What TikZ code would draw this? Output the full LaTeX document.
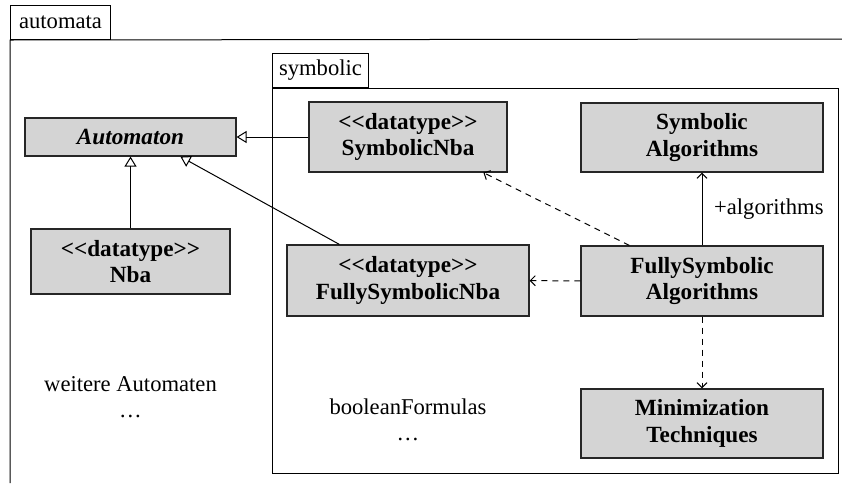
\documentclass[tikz,border=0pt]{standalone}
\usepackage{fontspec}
\setmainfont{Liberation Serif}[Ligatures=TeXOff]
\usetikzlibrary{arrows.meta,calc}
\begin{document}
\begin{tikzpicture}[x=0.5pt,y=-0.5pt,
  every node/.style={font=\fontsize{11.3}{13.3}\selectfont},
  box/.style={draw=black!85, fill=black!17, line width=0.6pt, align=center,
    inner sep=0pt, font=\fontsize{11.6}{13.3}\selectfont\bfseries},
  pkgtab/.style={draw, line width=0.5pt, anchor=north west, inner sep=0pt,
    minimum height=17pt},
  frame/.style={line width=0.5pt},
  gen/.style={line width=0.5pt, -{Triangle[open,length=5pt,width=6pt]}},
  dep/.style={line width=0.5pt, dash pattern=on 3pt off 2.5pt,
    -{Straight Barb[length=2.5pt,width=5pt]}},
  assoc/.style={line width=0.5pt, -{Straight Barb[length=2.5pt,width=5pt]}}
]
\useasboundingbox (0,0) rectangle (842,483);

% package frames
\node[pkgtab, minimum width=50pt] (automatatab) at (10,5) {automata};
\draw[frame] (10,483) -- (automatatab.south west) -- (842,39);
\node[pkgtab, minimum width=48pt] (symbolictab) at (272,53) {symbolic};
\draw[frame] (symbolictab.south west) rectangle (838,473);

% classes
\node[box, minimum width=105.5pt, minimum height=19pt] (automaton) at (130.5,137)
  {\textit{Automaton}};
\node[box, minimum width=99.5pt, minimum height=32.5pt] (nba) at (130.5,261.5)
  {<<datatype>>\\Nba};
\node[box, minimum width=99pt, minimum height=35pt] (snba) at (408,137)
  {<<datatype>>\\SymbolicNba};
\node[box, minimum width=121pt, minimum height=35.5pt] (fsnba) at (408,280.5)
  {<<datatype>>\\FullySymbolicNba};
\node[box, minimum width=121pt, minimum height=34.5pt] (salg) at (702,137.5)
  {Symbolic\\Algorithms};
\node[box, minimum width=121pt, minimum height=35pt] (fsalg) at (702,281)
  {FullySymbolic\\Algorithms};
\node[box, minimum width=121pt, minimum height=34.5pt] (mint) at (702,423.5)
  {Minimization\\Techniques};

% free texts
\node[align=center] (weitere) at (130.5,397) {weitere Automaten\\\ldots};
\node[align=center] (boolf) at (408,420) {booleanFormulas\\\ldots};

% generalisations
\draw[gen] (snba) -- (automaton);
\draw[gen] (nba) -- (automaton);
\draw[gen] ($(fsnba.north west)+(53,0)$) -- ($(automaton.south west)+(156,0)$);

% dependencies and association
\draw[dep] ($(fsalg.north west)+(49,0)$) -- ($(snba.south west)+(175,0)$);
\draw[dep] (fsalg) -- (fsnba);
\draw[dep] (fsalg) -- (mint);
\draw[assoc] (fsalg) -- node[right=2.5pt] (rolelabel) {+algorithms} (salg);
\end{tikzpicture}
\end{document}
